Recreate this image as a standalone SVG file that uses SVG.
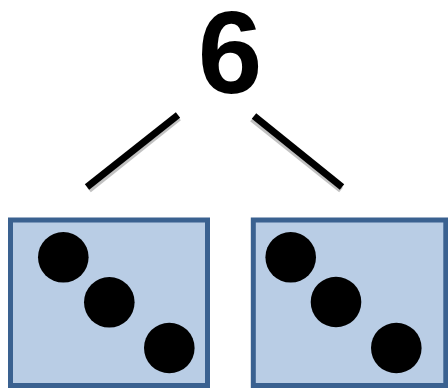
<svg xmlns="http://www.w3.org/2000/svg" width="448" height="390" viewBox="0 0 448 390">
<style>
.box{fill:#B9CDE5;stroke:#3A6190;stroke-width:5}
.dot{fill:#000}
.ln{stroke:#000;stroke-width:7;stroke-linecap:butt}
.sh{stroke:#999;stroke-width:6;opacity:0.6}
.num{font-family:"Liberation Sans",Arial,sans-serif;font-weight:bold;font-size:116px;fill:#000;text-anchor:middle}
</style>
<rect width="448" height="390" fill="#fff"/>
<g id="total"><text class="num" x="230" y="93">6</text></g>
<g id="connectors">
<line class="sh" x1="179" y1="118" x2="89" y2="190"/>
<line class="sh" x1="252" y1="119" x2="341" y2="190"/>
<line class="ln" x1="178" y1="115" x2="87" y2="187"/>
<line class="ln" x1="254" y1="116" x2="342" y2="187"/>
</g>
<g id="left-part">
<rect class="box" x="10.5" y="220" width="197" height="165.5"/>
<circle class="dot" cx="63.3" cy="257.3" r="25.3"/>
<circle class="dot" cx="109.3" cy="302.3" r="25.3"/>
<circle class="dot" cx="169.3" cy="348" r="25.3"/>
</g>
<g id="right-part">
<rect class="box" x="253.3" y="220" width="192.5" height="165.5"/>
<circle class="dot" cx="290.7" cy="257.3" r="25.3"/>
<circle class="dot" cx="336" cy="302" r="25.3"/>
<circle class="dot" cx="396.3" cy="348" r="25.3"/>
</g>
</svg>
